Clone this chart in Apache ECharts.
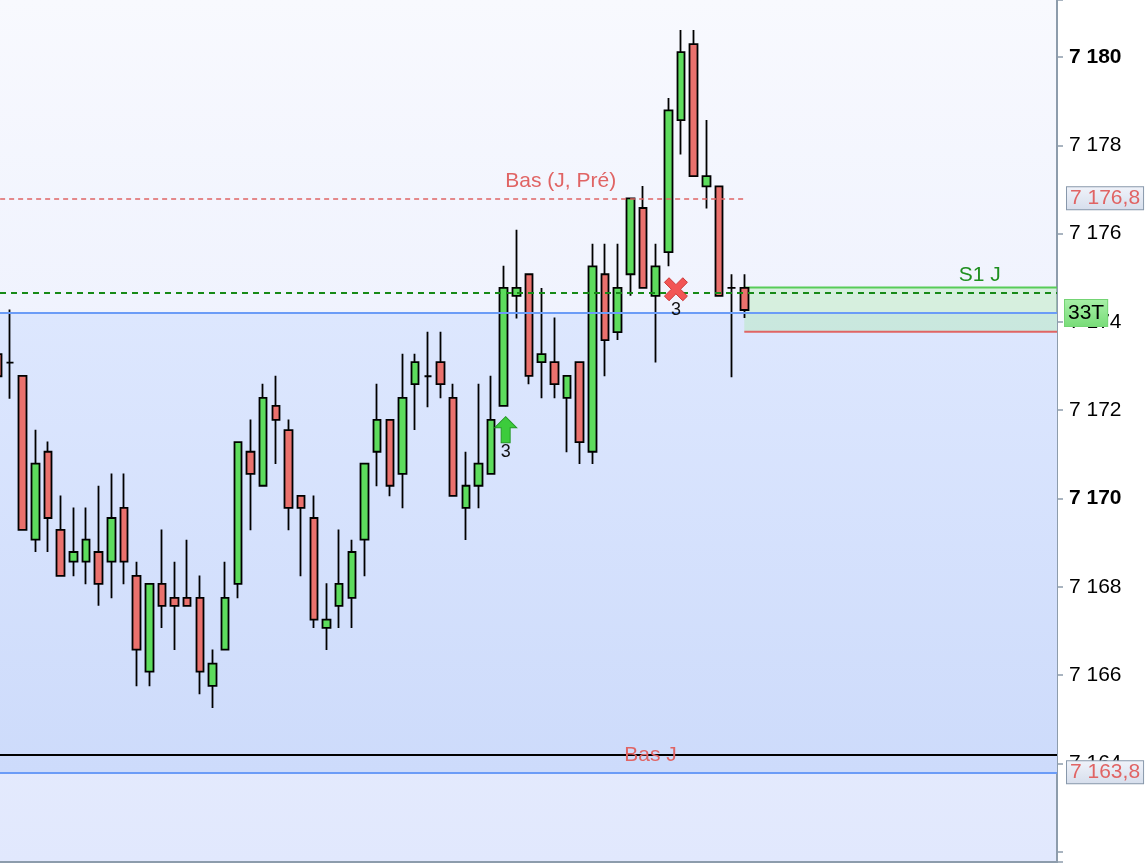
<!DOCTYPE html>
<html>
<head>
<meta charset="utf-8">
<script src="https://cdn.jsdelivr.net/npm/echarts@6/dist/echarts.min.js"></script>
<style>
html,body{margin:0;padding:0;background:#fff;}
#chart{width:1148px;height:866px;}
</style>
</head>
<body>
<div id="chart"></div>
<script>
// ---- data ----
// slot index of each candle (0 = left-most, partly cut off)
const slots = [0,1,2,3,4,5,6,7,8,9,10,11,12,13,14,15,16,17,18,19,
               20,21,22,23,24,25,26,27,28,29,30,31,32,33,34,35,36,37,38,39,
               40,41,42,43,44,45,46,47,48,49,50,51,52,53,54,55,56,57,58,59];
const openVals  = [7173.27,7173.08,7172.78,7169.07,7171.06,7169.29,7168.57,7168.57,7168.79,7168.57,
                   7169.79,7168.25,7166.08,7168.07,7167.75,7167.75,7167.75,7165.76,7166.58,7168.07,
                   7171.06,7170.29,7172.10,7171.55,7170.06,7169.56,7167.07,7167.57,7167.75,7169.07,
                   7171.06,7171.78,7170.56,7172.59,7172.77,7173.09,7172.28,7169.79,7170.29,7170.56,
                   7172.10,7174.59,7175.08,7173.09,7173.09,7172.28,7173.09,7171.06,7175.08,7173.77,
                   7175.08,7176.58,7174.59,7175.58,7178.57,7180.29,7177.07,7177.07,7174.77,7174.77];
const closeVals = [7172.77,7173.08,7169.29,7170.79,7169.56,7168.25,7168.79,7169.07,7168.07,7169.56,
                   7168.57,7166.58,7168.07,7167.57,7167.57,7167.57,7166.08,7166.26,7167.75,7171.28,
                   7170.56,7172.28,7171.78,7169.79,7169.79,7167.26,7167.26,7168.07,7168.79,7170.79,
                   7171.78,7170.29,7172.28,7173.09,7172.77,7172.59,7170.06,7170.29,7170.79,7171.78,
                   7174.77,7174.77,7172.78,7173.27,7172.59,7172.78,7171.28,7175.26,7173.59,7174.77,
                   7176.80,7174.77,7175.26,7178.79,7180.11,7177.30,7177.30,7174.59,7174.77,7174.27];
const lowVals   = [7172.60,7172.26,7169.29,7168.79,7168.79,7168.25,7168.24,7168.06,7167.57,7167.74,
                   7168.06,7165.75,7165.75,7167.07,7166.57,7167.57,7165.57,7165.26,7166.58,7167.74,
                   7169.28,7170.29,7170.78,7169.28,7168.24,7167.07,7166.57,7167.07,7167.07,7168.24,
                   7170.28,7170.05,7169.78,7171.55,7172.07,7172.27,7170.06,7169.06,7169.78,7170.56,
                   7172.10,7174.08,7172.59,7172.27,7172.27,7171.05,7170.78,7170.78,7172.77,7173.59,
                   7174.59,7174.77,7173.08,7175.26,7177.79,7177.30,7176.57,7174.59,7172.75,7174.09];
const highVals  = [7173.50,7174.28,7172.78,7171.56,7171.29,7170.07,7169.80,7169.80,7170.29,7170.57,
                   7170.57,7168.57,7168.07,7169.30,7168.57,7169.07,7168.26,7166.58,7168.57,7171.28,
                   7171.79,7172.60,7172.78,7171.79,7170.06,7170.07,7168.08,7169.30,7169.07,7170.79,
                   7172.60,7171.78,7173.28,7173.28,7173.78,7173.78,7172.60,7171.06,7172.60,7172.78,
                   7175.27,7176.09,7175.08,7174.77,7174.10,7172.78,7173.09,7175.77,7175.77,7175.77,
                   7176.80,7177.08,7175.77,7179.07,7180.61,7180.61,7178.57,7177.07,7175.08,7175.08];

// reference levels
const basJPre   = 7176.8;   // red dashed, "Bas (J, Pré)"
const s1Top     = 7174.78;  // S1 J zone top
const s1Dashed  = 7174.66;  // green dashed
const blueHigh  = 7174.2;   // blue line, "33T"
const s1Bottom  = 7173.78;  // S1 J zone bottom
const blackLvl  = 7164.19;  // black line
const basJ      = 7163.8;   // blue line, "Bas J"

// signal markers: [slot, price, label]
const upSignals   = [[40.15, 7171.56, '3']];
const exitSignals = [[53.6, 7174.74, '3']];

// visible ranges
const xMin = 0.21, xMax = 83.7;
const yMin = 7161.77, yMax = 7181.29;

// ---- build ----
const candles = slots.map((s, i) => [s, openVals[i], closeVals[i], lowVals[i], highVals[i]]);
const lastSlot = slots[slots.length - 1];

function fmtNum(v, dec) {
  const s = v.toFixed(dec).replace('.', ',');
  const parts = s.split(',');
  const ip = parts[0].replace(/\B(?=(\d{3})+(?!\d))/g, ' ');
  return parts.length > 1 ? ip + ',' + parts[1] : ip;
}

const FONT = 'Liberation Sans, Arial, sans-serif';
const axisBox = {
  show: true, position: 'end', distance: 10,
  fontFamily: FONT, fontSize: 21,
  color: '#e06464', padding: [1, 3, 0, 3],
  backgroundColor: { type: 'linear', x: 0, y: 0, x2: 0, y2: 1,
    colorStops: [{ offset: 0, color: '#f0f3fa' }, { offset: 1, color: '#d6deec' }] },
  borderColor: '#8898ab', borderWidth: 1
};

const chart = echarts.init(document.getElementById('chart'), null, { renderer: 'canvas' });

const option = {
  animation: false,
  backgroundColor: '#ffffff',
  grid: {
    left: 0, right: 91, top: 0, bottom: 4,
    show: true, borderWidth: 0,
    backgroundColor: { type: 'linear', x: 0, y: 0, x2: 0, y2: 1,
      colorStops: [{ offset: 0, color: '#f8f9fe' }, { offset: 1, color: '#e1e8fd' }] }
  },
  xAxis: {
    type: 'value', min: xMin, max: xMax,
    axisLine: { show: true, onZero: false, lineStyle: { color: '#8d9cac', width: 2 } },
    axisTick: { show: false }, axisLabel: { show: false }, splitLine: { show: false }
  },
  yAxis: {
    type: 'value', position: 'right', min: yMin, max: yMax, splitNumber: 10,
    axisLine: { show: true, lineStyle: { color: '#8d9cac', width: 2 } },
    axisTick: { show: true, length: 6, lineStyle: { color: '#8d9cac', width: 1.5 } },
    splitLine: { show: false },
    axisLabel: {
      margin: 12, color: '#000',
      formatter: function (v) {
        const r = Math.round(v);
        if (Math.abs(v - r) > 1e-6 || r % 2 !== 0 || v < yMin + 1) return '';
        return (r % 10 === 0 ? '{b|' : '{n|') + fmtNum(r, 0) + '}';
      },
      rich: {
        b: { fontFamily: FONT, fontSize: 21, fontWeight: 'bold', color: '#000' },
        n: { fontFamily: FONT, fontSize: 21, color: '#000' }
      }
    }
  },
  series: [
    {
      type: 'candlestick', name: 'prix', data: candles, barWidth: 8, clip: true,
      encode: { x: 0, y: [1, 2, 3, 4] },
      itemStyle: { color: '#5ddc5d', color0: '#ea716d', borderColor: '#000', borderColor0: '#000', borderWidth: 1.8 },
      markArea: {
        silent: true,
        data: [
          [{ yAxis: blueHigh, itemStyle: { color: { type: 'linear', x: 0, y: 0, x2: 0, y2: 1,
              colorStops: [{ offset: 0, color: '#dde7fe' }, { offset: 1, color: '#cddbfb' }] } } },
           { yAxis: basJ }],
          [{ xAxis: lastSlot, yAxis: s1Top, itemStyle: { color: 'rgba(170,235,170,0.38)' } }, { yAxis: s1Bottom }],
          [{ xAxis: lastSlot, yAxis: s1Top, itemStyle: { color: 'transparent', borderColor: '#58cc58', borderWidth: 2 } }, { yAxis: s1Top }],
          [{ xAxis: lastSlot, yAxis: s1Bottom, itemStyle: { color: 'transparent', borderColor: '#e06464', borderWidth: 2 } }, { yAxis: s1Bottom }]
        ]
      },
      markLine: {
        silent: true, symbol: ['none', 'none'], animation: false,
        label: { show: false },
        data: [
          [{ coord: [xMin + 0.01, basJPre] }, { coord: [lastSlot, basJPre] }],
          { yAxis: basJPre, lineStyle: { color: 'rgba(0,0,0,0)', width: 0 },
            label: Object.assign({}, axisBox, { formatter: fmtNum(basJPre, 1) }) },
          { yAxis: s1Dashed, lineStyle: { color: '#178a17', width: 2, type: [6, 5] } },
          { yAxis: blueHigh, lineStyle: { color: '#6b9cf7', width: 2, type: 'solid' },
            label: { show: true, position: 'end', distance: 8, formatter: '33T',
              fontFamily: FONT, fontSize: 21, color: '#000',
              padding: [3, 3, 2, 3], borderColor: '#74d474', borderWidth: 1,
              backgroundColor: { type: 'linear', x: 0, y: 0, x2: 0, y2: 1,
                colorStops: [{ offset: 0, color: '#a8f0a8' }, { offset: 1, color: '#78dc78' }] } } },
          { yAxis: blackLvl, lineStyle: { color: '#000', width: 2, type: 'solid' } },
          { yAxis: basJ, lineStyle: { color: '#6b9cf7', width: 2, type: 'solid' },
            label: Object.assign({}, axisBox, { formatter: fmtNum(basJ, 1) }) }
        ],
        lineStyle: { color: '#e06464', width: 1.6, type: [5, 4] }
      },
      markPoint: {
        silent: true, symbol: 'circle', symbolSize: 1,
        itemStyle: { color: 'transparent' },
        data: [
          { coord: [44.5, basJPre], label: { show: true, position: 'inside', offset: [0, -17], formatter: 'Bas (J, Pré)',
              color: '#e06464', fontSize: 21, fontFamily: FONT } },
          { coord: [77.6, s1Top], label: { show: true, position: 'inside', offset: [0, -12], formatter: 'S1 J',
              color: '#1f8f1f', fontSize: 21, fontFamily: FONT } },
          { coord: [51.6, basJ], label: { show: true, position: 'inside', offset: [0, -17], formatter: 'Bas J',
              color: '#e06464', fontSize: 21, fontFamily: FONT } }
        ]
      }
    },
    {
      type: 'scatter', name: 'achat',
      data: upSignals.map(s => ({ value: [s[0], s[1]], label: { formatter: s[2] } })),
      symbol: 'path://M11,0 L22,11 L15.5,11 L15.5,26 L6.5,26 L6.5,11 L0,11 Z',
      symbolSize: [22, 26],
      itemStyle: { color: '#3ccc3c', borderColor: '#229622', borderWidth: 1, opacity: 1 },
      label: { show: true, position: 'bottom', distance: 0, color: '#111', fontSize: 18, fontFamily: FONT },
      z: 5
    },
    {
      type: 'scatter', name: 'sortie',
      data: exitSignals.map(s => ({ value: [s[0], s[1]], label: { formatter: s[2] } })),
      symbol: 'path://M2,6 L6,2 L12,8 L18,2 L22,6 L16,12 L22,18 L18,22 L12,16 L6,22 L2,18 L8,12 Z',
      symbolSize: 23,
      itemStyle: { color: '#f25555', borderColor: '#cc3838', borderWidth: 1, opacity: 1 },
      label: { show: true, position: 'bottom', distance: 0, color: '#111', fontSize: 18, fontFamily: FONT },
      z: 5
    }
  ]
};
chart.setOption(option);
</script>
</body>
</html>
